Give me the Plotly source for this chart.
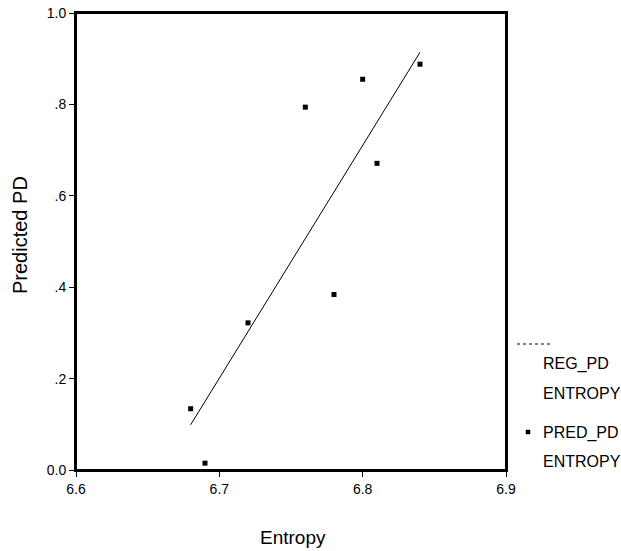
import plotly.graph_objects as go

# Data
entropy = [6.68, 6.69, 6.72, 6.76, 6.78, 6.80, 6.81, 6.84]
pred_pd = [0.134, 0.015, 0.322, 0.794, 0.384, 0.855, 0.671, 0.888]
reg_x = [6.68, 6.84]
reg_pd = [0.099, 0.914]

x_ticks = [6.6, 6.7, 6.8, 6.9]
x_ticktext = ["6.6", "6.7", "6.8", "6.9"]
y_ticks = [0.0, 0.2, 0.4, 0.6, 0.8, 1.0]
y_ticktext = ["0.0", ".2", ".4", ".6", ".8", "1.0"]

FONT = "Liberation Sans, Arial, sans-serif"

fig = go.Figure()
fig.add_trace(go.Scatter(x=reg_x, y=reg_pd, mode="lines", name="REG_PD ENTROPY",
                         line=dict(color="black", width=1), showlegend=False))
fig.add_trace(go.Scatter(x=entropy, y=pred_pd, mode="markers", name="PRED_PD ENTROPY",
                         marker=dict(symbol="square", size=5, color="black"), showlegend=False))

W, H = 621, 551
L, T = 76, 13
R, B = W - 506, H - 470
pw, ph = W - L - R, H - T - B

def px(xp):
    return (xp - L) / pw

def py(yp):
    return (H - B - yp) / ph

shapes = [
    dict(type="rect", xref="paper", yref="paper", x0=0, x1=1, y0=0, y1=1,
         line=dict(color="black", width=2), layer="above"),
    dict(type="line", xref="paper", yref="paper", x0=px(517), x1=px(552), y0=py(344), y1=py(344),
         line=dict(color="black", width=1, dash="dot")),
    dict(type="rect", xref="paper", yref="paper", x0=px(526), x1=px(530), y0=py(434), y1=py(430),
         line=dict(color="black", width=0.5), fillcolor="black"),
]

def ann(text, x, y, size, anchor="left", angle=0):
    return dict(text=text, x=px(x), y=py(y), xref="paper", yref="paper", xanchor=anchor,
                yanchor="middle", showarrow=False, textangle=angle,
                font=dict(size=size, color="black", family=FONT))

annotations = [
    ann("REG_PD", 541, 364, 16),
    ann("ENTROPY", 541, 393, 16),
    ann("PRED_PD", 541, 433, 16),
    ann("ENTROPY", 541, 461, 16),
    ann("Entropy", 293, 537, 19, anchor="center"),
    ann("Predicted PD", 20, 235, 20, anchor="center", angle=-90),
]

fig.update_layout(
    width=W, height=H,
    margin=dict(l=L, r=R, t=T, b=B, autoexpand=False),
    paper_bgcolor="white", plot_bgcolor="white",
    font=dict(family=FONT, size=14, color="black"),
    shapes=shapes, annotations=annotations,
    showlegend=False,
)
fig.update_xaxes(range=[6.6, 6.9], tickvals=x_ticks, ticktext=x_ticktext,
                 showline=True, linecolor="black", linewidth=2, mirror=True,
                 ticks="outside", ticklen=5, tickcolor="black", tickwidth=1,
                 showgrid=False, zeroline=False, tickfont=dict(size=14), automargin=False,
                 ticklabeloverflow="allow")
fig.update_yaxes(range=[0, 1.0], tickvals=y_ticks, ticktext=y_ticktext,
                 showline=True, linecolor="black", linewidth=2, mirror=True,
                 ticks="outside", ticklen=5, tickcolor="black", tickwidth=1,
                 showgrid=False, zeroline=False, tickfont=dict(size=14), automargin=False,
                 ticklabeloverflow="allow")

fig.write_html("out.html", config={"displayModeBar": False},
               post_script="document.body.style.margin='0px';")
